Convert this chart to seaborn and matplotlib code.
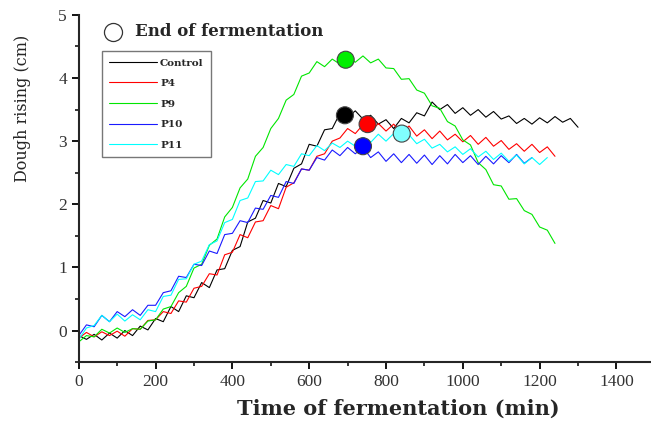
import numpy as np
import pandas as pd
import matplotlib
matplotlib.use('Agg')
import matplotlib.pyplot as plt
from matplotlib.ticker import MultipleLocator
import seaborn as sns

control = [-0.08, -0.14, -0.06, -0.15, -0.04, -0.12, 0.0, -0.08, 0.07, 0.01, 0.19, 0.14, 0.38, 0.3, 0.55, 0.52,
           0.76, 0.68, 0.96, 0.98, 1.27, 1.33, 1.72, 1.78, 2.06, 2.02, 2.33, 2.28, 2.57, 2.64, 2.95, 2.92, 3.18,
           3.2, 3.44, 3.38, 3.48, 3.35, 3.41, 3.27, 3.34, 3.2, 3.36, 3.29, 3.45, 3.4, 3.62, 3.5, 3.58, 3.44, 3.53,
           3.41, 3.5, 3.38, 3.47, 3.35, 3.4, 3.28, 3.36, 3.27, 3.37, 3.29, 3.39, 3.3, 3.36, 3.22]
p4 = [-0.12, -0.03, -0.1, -0.02, -0.08, -0.01, -0.09, 0.03, 0.02, 0.16, 0.17, 0.3, 0.27, 0.47, 0.45, 0.67, 0.7,
      0.9, 0.88, 1.2, 1.24, 1.52, 1.47, 1.72, 1.74, 1.98, 1.93, 2.27, 2.34, 2.56, 2.54, 2.76, 2.8, 3.0, 3.05, 3.2,
      3.12, 3.26, 3.15, 3.28, 3.16, 3.27, 3.13, 3.24, 3.08, 3.18, 3.04, 3.16, 3.02, 3.11, 2.99, 3.09, 2.95, 3.06,
      2.92, 3.01, 2.87, 2.96, 2.84, 2.95, 2.82, 2.91, 2.76]
p9 = [-0.18, -0.08, -0.1, 0.02, -0.04, 0.04, -0.03, 0.03, 0.02, 0.15, 0.17, 0.34, 0.38, 0.6, 0.7, 0.99, 1.05,
      1.35, 1.45, 1.8, 1.95, 2.26, 2.4, 2.76, 2.9, 3.2, 3.36, 3.65, 3.74, 4.03, 4.08, 4.26, 4.18, 4.3, 4.22, 4.33,
      4.25, 4.35, 4.24, 4.3, 4.16, 4.15, 3.98, 3.99, 3.81, 3.76, 3.56, 3.52, 3.31, 3.24, 3.02, 2.94, 2.66, 2.55,
      2.31, 2.29, 2.08, 2.09, 1.9, 1.84, 1.64, 1.59, 1.38]
p10 = [-0.08, 0.09, 0.06, 0.24, 0.14, 0.3, 0.22, 0.33, 0.24, 0.4, 0.4, 0.6, 0.63, 0.86, 0.84, 1.05, 1.03, 1.26,
       1.22, 1.52, 1.54, 1.74, 1.71, 1.94, 1.92, 2.14, 2.11, 2.36, 2.33, 2.56, 2.54, 2.74, 2.7, 2.86, 2.77, 2.9,
       2.8, 2.9, 2.74, 2.83, 2.68, 2.8, 2.66, 2.79, 2.65, 2.78, 2.63, 2.77, 2.64, 2.79, 2.66, 2.77, 2.63, 2.76,
       2.64, 2.77, 2.66, 2.79, 2.65, 2.74]
p11 = [-0.14, 0.04, 0.08, 0.24, 0.14, 0.26, 0.15, 0.25, 0.17, 0.33, 0.3, 0.54, 0.56, 0.81, 0.82, 1.05, 1.1, 1.36,
       1.42, 1.71, 1.76, 2.06, 2.1, 2.36, 2.37, 2.54, 2.47, 2.63, 2.6, 2.8, 2.77, 2.93, 2.85, 2.97, 2.9, 3.0, 2.92,
       3.06, 2.98, 3.11, 3.0, 3.12, 3.0, 3.1, 2.96, 3.03, 2.89, 2.95, 2.83, 2.91, 2.79, 2.88, 2.75, 2.84, 2.71,
       2.81, 2.68, 2.78, 2.64, 2.74, 2.63, 2.74]

samples = ['Control', 'P4', 'P9', 'P10', 'P11']
colors = ['black', '#ff0000', '#00e600', '#1a1aff', '#00ffff']
marker_colors = ['black', '#ff0000', '#00ee00', '#0000ff', '#80ffff']

# end of fermentation points
end_time = [693, 752, 695, 740, 841]
end_rise = [3.41, 3.27, 4.29, 2.92, 3.12]

step = 20
frames = []
for name, vals in zip(samples, [control, p4, p9, p10, p11]):
    frames.append(pd.DataFrame({'time': np.arange(len(vals)) * step, 'rise': vals, 'sample': name}))
df = pd.concat(frames, ignore_index=True)
ends = pd.DataFrame({'time': end_time, 'rise': end_rise, 'sample': samples})

sns.set_style('ticks')
plt.rcParams['font.family'] = ['Liberation Serif', 'DejaVu Serif']
wide = ['DejaVu Serif']

fig = plt.figure(figsize=(6.51, 4.26), dpi=100)
ax = fig.add_axes([0.121, 0.150, 0.879, 0.815])

sns.lineplot(data=df, x='time', y='rise', hue='sample', hue_order=samples, palette=colors,
             estimator=None, sort=False, linewidth=0.8, ax=ax)
sns.scatterplot(data=ends, x='time', y='rise', hue='sample', hue_order=samples, palette=marker_colors,
                s=150, edgecolor='#444444', linewidth=0.8, legend=False, zorder=5, ax=ax)

ax.set_xlim(0, 1490)
ax.set_ylim(-0.5, 5)
ax.xaxis.set_major_locator(MultipleLocator(200))
ax.xaxis.set_minor_locator(MultipleLocator(100))
ax.yaxis.set_major_locator(MultipleLocator(1))
ax.yaxis.set_minor_locator(MultipleLocator(0.5))
ax.tick_params(which='major', length=5, width=1.3, labelsize=12.5, colors='black')
ax.tick_params(which='minor', length=3, width=1.3)
for lab in ax.get_xticklabels() + ax.get_yticklabels():
    lab.set_color('#333333')
sns.despine(ax=ax)
ax.spines['left'].set_linewidth(1.5)
ax.spines['bottom'].set_linewidth(1.5)

ax.set_xlabel('Time of fermentation (min)', fontsize=15, fontweight='bold', family=wide)
ax.xaxis.set_label_coords(0.558, -0.105)
ax.set_ylabel('Dough rising (cm)', fontsize=11.5, family=wide)
ax.yaxis.set_label_coords(-0.083, 0.73)

handles, labels = ax.get_legend_handles_labels()
leg = ax.legend(handles, labels, loc='upper left', bbox_to_anchor=(0.04, 0.896), borderaxespad=0,
                fancybox=False, edgecolor='#777777', framealpha=1,
                prop={'weight': 'bold', 'size': 7.5, 'family': wide},
                handlelength=4.6, handletextpad=0.3, labelspacing=1.08, borderpad=0.7)
leg.get_frame().set_linewidth(1.0)
for h in leg.get_lines():
    h.set_linewidth(0.8)

ax.plot([0.06], [0.952], 'o', transform=ax.transAxes, clip_on=False, markersize=13,
        markerfacecolor='white', markeredgecolor='#333333', markeredgewidth=0.9)
ax.text(0.098, 0.952, 'End of fermentation', transform=ax.transAxes, fontsize=12,
        fontweight='bold', family=wide, va='center', ha='left')

plt.savefig('out.png', dpi=100)
